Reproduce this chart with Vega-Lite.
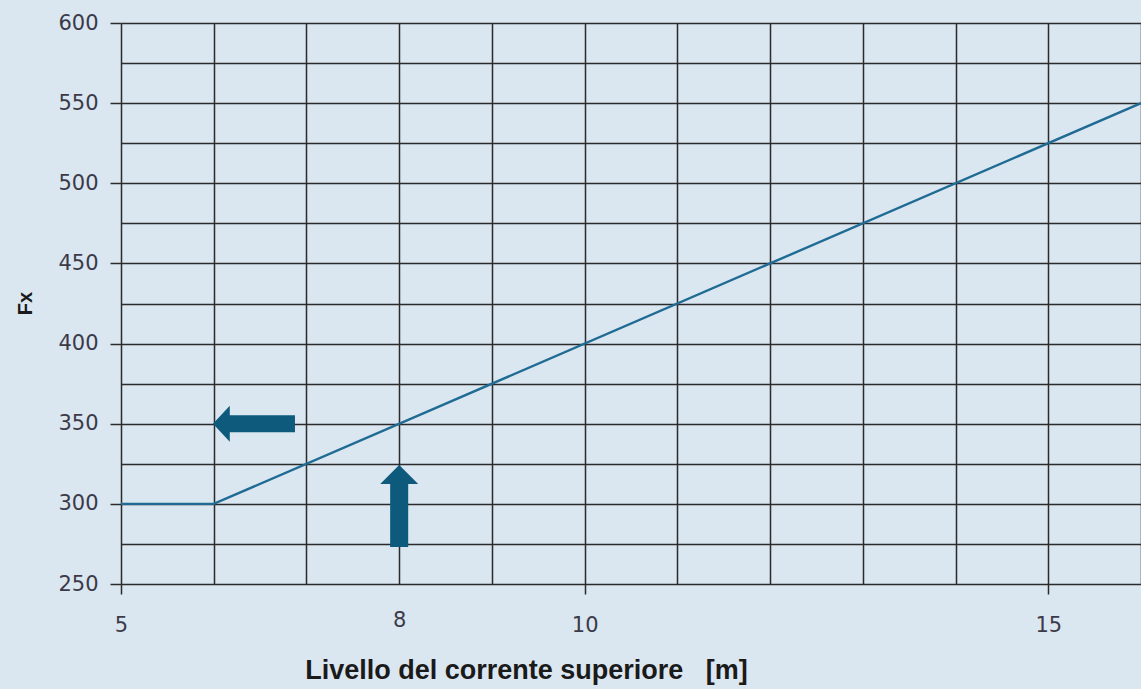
{
  "$schema": "https://vega.github.io/schema/vega-lite/v6.json",
  "width": 1020,
  "height": 561,
  "autosize": {"type": "none"},
  "padding": {"left": 121, "top": 23, "right": 0, "bottom": 105},
  "background": "#dae6f0",
  "config": {
    "view": {"stroke": null},
    "axis": {
      "gridColor": "#2b2b2b",
      "gridWidth": 1.5,
      "gridOpacity": 1,
      "tickColor": "#2b2b2b",
      "tickWidth": 1.5,
      "domain": false,
      "labelFont": "DejaVu Sans",
      "labelFontSize": 21,
      "labelColor": "#3a3a48",
      "titleFont": "Liberation Sans",
      "titleFontWeight": "bold",
      "titleColor": "#1a1a1a"
    }
  },
  "layer": [
    {
      "data": {"values": [
        {"level": 5, "fx": 300},
        {"level": 6, "fx": 300},
        {"level": 16, "fx": 550}
      ]},
      "mark": {"type": "line", "color": "#1f6b94", "strokeWidth": 2.4, "clip": true},
      "encoding": {
        "x": {
          "field": "level", "type": "quantitative",
          "scale": {"domain": [5, 16], "nice": false, "zero": false},
          "axis": {
            "values": [5, 6, 7, 8, 9, 10, 11, 12, 13, 14, 15, 16],
            "format": "d",
            "labelExpr": "indexof([5, 8, 10, 15], datum.value) >= 0 ? datum.label : ''",
            "tickSize": 10,
            "tickOpacity": {"condition": {"test": "indexof([5, 10, 15], datum.value) >= 0", "value": 1}, "value": 0},
            "labelPadding": {"condition": {"test": "datum.value == 8", "value": 15}, "value": 20},
            "labelFlush": false,
            "title": "Livello del corrente superiore\u00a0\u00a0\u00a0[m]",
            "titleFontSize": 27,
            "titleX": 405,
            "titleY": 86,
            "titleAlign": "center",
            "titleBaseline": "middle"
          }
        },
        "y": {
          "field": "fx", "type": "quantitative",
          "scale": {"domain": [250, 600], "nice": false, "zero": false},
          "axis": {
            "values": [250, 275, 300, 325, 350, 375, 400, 425, 450, 475, 500, 525, 550, 575, 600],
            "format": "d",
            "labelExpr": "datum.value % 50 == 0 ? datum.label : ''",
            "tickSize": 11,
            "tickOpacity": {"condition": {"test": "datum.value % 50 == 0", "value": 1}, "value": 0},
            "labelPadding": 12,
            "labelFlush": false,
            "title": "Fx",
            "titleFontSize": 20,
            "titleX": -96,
            "titleY": 280,
            "titleAngle": -90,
            "titleAlign": "center",
            "titleBaseline": "middle"
          }
        }
      }
    },
    {
      "data": {"values": [{"level": 6.434, "fx": 350}]},
      "mark": {
        "type": "point", "filled": true, "opacity": 1, "color": "#0e5a7c", "size": 6724,
        "shape": "M-1,0 L-0.59,-0.44 L-0.59,-0.207 L1,-0.207 L1,0.207 L-0.59,0.207 L-0.59,0.44 Z"
      },
      "encoding": {
        "x": {"field": "level", "type": "quantitative"},
        "y": {"field": "fx", "type": "quantitative"}
      }
    },
    {
      "data": {"values": [{"level": 8, "fx": 298.7}]},
      "mark": {
        "type": "point", "filled": true, "opacity": 1, "color": "#0e5a7c", "size": 6724,
        "shape": "M0,-1 L0.463,-0.537 L0.22,-0.537 L0.22,1 L-0.22,1 L-0.22,-0.537 L-0.463,-0.537 Z"
      },
      "encoding": {
        "x": {"field": "level", "type": "quantitative"},
        "y": {"field": "fx", "type": "quantitative"}
      }
    }
  ]
}
